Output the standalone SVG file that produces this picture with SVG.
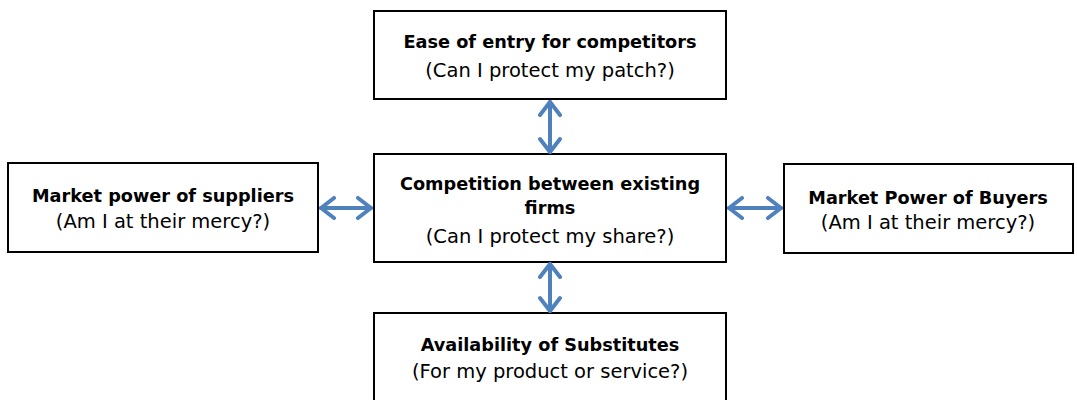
<svg xmlns="http://www.w3.org/2000/svg" width="1077" height="400" viewBox="0 0 1077 400">
<defs>
<marker id="chev" viewBox="0 0 18 24" refX="16" refY="12" markerWidth="18" markerHeight="24" markerUnits="userSpaceOnUse" orient="auto-start-reverse">
<path d="M3,2 L16,12 L3,22" fill="none" stroke="#4F81BD" stroke-width="4" stroke-linecap="round" stroke-linejoin="round"/>
</marker>
<style>
.box{fill:#fff;stroke:#000;stroke-width:2}
.t{font-family:"DejaVu Sans",sans-serif;font-size:19.5px;fill:#000;text-anchor:middle}
.b{font-weight:bold;font-size:17.7px}
.c{fill:none;stroke:#4F81BD;stroke-width:4;stroke-linecap:round}
</style>
</defs>
<rect width="1077" height="400" fill="#fff"/>
<g id="n-entry">
<rect class="box" x="374" y="11" width="352" height="88"/>
<text class="t b" x="550" y="48">Ease of entry for competitors</text>
<text class="t" x="550" y="77">(Can I protect my patch?)</text>
</g>
<g id="n-suppliers">
<rect class="box" x="8" y="163" width="310" height="89"/>
<text class="t b" x="163" y="202">Market power of suppliers</text>
<text class="t" x="163" y="228">(Am I at their mercy?)</text>
</g>
<g id="n-competition">
<rect class="box" x="374" y="154" width="352" height="108"/>
<text class="t b" x="550" y="190">Competition between existing</text>
<text class="t b" x="550" y="214">firms</text>
<text class="t" x="550" y="243">(Can I protect my share?)</text>
</g>
<g id="n-buyers">
<rect class="box" x="784" y="164" width="289" height="89"/>
<text class="t b" x="928" y="204">Market Power of Buyers</text>
<text class="t" x="928" y="229">(Am I at their mercy?)</text>
</g>
<g id="n-substitutes">
<rect class="box" x="374" y="313" width="352" height="100"/>
<text class="t b" x="550" y="351">Availability of Substitutes</text>
<text class="t" x="550" y="378">(For my product or service?)</text>
</g>
<g id="connectors">
<line class="c" x1="550" y1="102" x2="550" y2="152" marker-start="url(#chev)" marker-end="url(#chev)"/>
<line class="c" x1="550" y1="264" x2="550" y2="311" marker-start="url(#chev)" marker-end="url(#chev)"/>
<line class="c" x1="321" y1="208" x2="371" y2="208" marker-start="url(#chev)" marker-end="url(#chev)"/>
<line class="c" x1="729" y1="208" x2="781" y2="208" marker-start="url(#chev)" marker-end="url(#chev)"/>
</g>
</svg>
